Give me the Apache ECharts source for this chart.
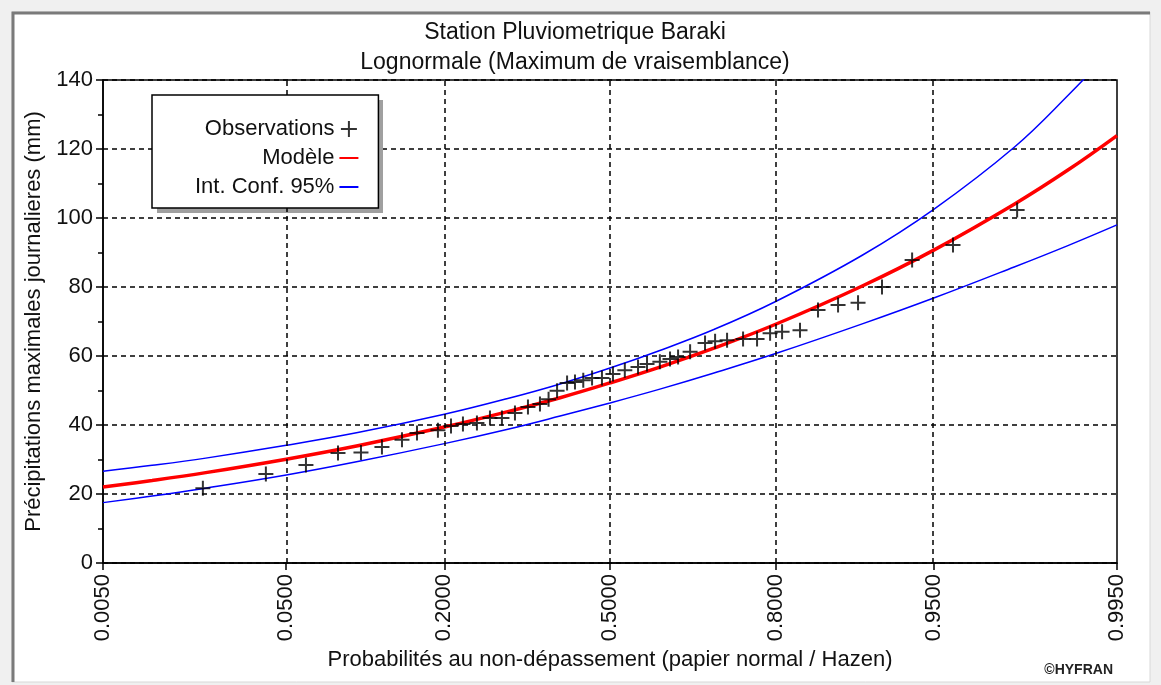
<!DOCTYPE html>
<html>
<head>
<meta charset="utf-8">
<title>Station Pluviometrique Baraki</title>
<script src="https://cdn.jsdelivr.net/npm/echarts@6/dist/echarts.min.js"></script>
<style>
    html, body { margin: 0; padding: 0; background: #f0f0f0; }
    #main { width: 1161px; height: 685px; }
</style>
</head>
<body>
<div id="main"></div>
<script>
'use strict';

// probabilites (Hazen) et valeurs observees (mm)
var obsProbs = [0.0193, 0.0402, 0.0612, 0.0835, 0.1029, 0.1233, 0.1453, 0.1634, 0.191, 0.2096,
    0.2275, 0.2495, 0.271, 0.2915, 0.3146, 0.3384, 0.361, 0.3775, 0.394, 0.4137,
    0.4294, 0.446, 0.4637, 0.4837, 0.506, 0.530, 0.5566, 0.5746, 0.600, 0.6198,
    0.6353, 0.658, 0.6854, 0.7033, 0.724, 0.7505, 0.7725, 0.792, 0.809, 0.8328,
    0.8547, 0.8767, 0.8962, 0.9165, 0.9376, 0.9593, 0.9807];
var obsValues = [21.7, 25.8, 28.4, 31.9, 32.0, 33.6, 35.7, 37.7, 38.5, 39.7,
    40.3, 40.6, 42.0, 42.0, 43.5, 45.2, 46.1, 47.5, 49.9, 52.2,
    52.5, 53.0, 53.6, 53.6, 54.8, 55.9, 56.8, 57.7, 58.3, 59.1,
    59.7, 61.2, 63.8, 64.3, 64.6, 64.9, 64.9, 66.6, 67.0, 67.5,
    73.3, 74.8, 75.4, 80.0, 87.8, 92.2, 102.3];

// courbes
var curveProbs = [0.005, 0.01, 0.02, 0.05, 0.1, 0.2, 0.3, 0.4, 0.5, 0.6, 0.7, 0.8, 0.9, 0.95, 0.98, 0.99, 0.995];
var modelValues = [22.0, 23.9, 26.2, 30.1, 34.0, 39.4, 43.8, 47.9, 52.2, 56.8, 62.2, 69.2, 80.3, 90.7, 104.0, 113.9, 123.9];
var upperValues = [26.6, 28.3, 30.4, 34.1, 37.8, 43.1, 47.6, 51.9, 56.5, 61.6, 67.6, 75.8, 89.2, 102.5, 120.5, 135.5, 150.5];
var lowerValues = [17.5, 19.4, 21.7, 25.5, 29.4, 34.6, 38.7, 42.6, 46.4, 50.4, 55.0, 60.7, 69.3, 76.8, 85.8, 92.0, 98.0];

var tickProbs = [0.005, 0.05, 0.2, 0.5, 0.8, 0.95, 0.995];

var FONT = '"Liberation Sans", Arial, sans-serif';

// quantile de la loi normale (Acklam)
function normInv(p) {
    var a = [-39.69683028665376, 220.9460984245205, -275.9285104469687, 138.3577518672690, -30.66479806614716, 2.506628277459239];
    var b = [-54.47609879822406, 161.5858368580409, -155.6989798598866, 66.80131188771972, -13.28068155288572];
    var c = [-0.007784894002430293, -0.3223964580411365, -2.400758277161838, -2.549732539343734, 4.374664141464968, 2.938163982698783];
    var d = [0.007784695709041462, 0.3224671290700398, 2.445134137142996, 3.754408661907416];
    var pl = 0.02425, q, r;
    if (p < pl) {
        q = Math.sqrt(-2 * Math.log(p));
        return (((((c[0] * q + c[1]) * q + c[2]) * q + c[3]) * q + c[4]) * q + c[5]) /
            ((((d[0] * q + d[1]) * q + d[2]) * q + d[3]) * q + 1);
    }
    if (p > 1 - pl) {
        q = Math.sqrt(-2 * Math.log(1 - p));
        return -(((((c[0] * q + c[1]) * q + c[2]) * q + c[3]) * q + c[4]) * q + c[5]) /
            ((((d[0] * q + d[1]) * q + d[2]) * q + d[3]) * q + 1);
    }
    q = p - 0.5;
    r = q * q;
    return (((((a[0] * r + a[1]) * r + a[2]) * r + a[3]) * r + a[4]) * r + a[5]) * q /
        (((((b[0] * r + b[1]) * r + b[2]) * r + b[3]) * r + b[4]) * r + 1);
}

function pairs(probs, values) {
    return probs.map(function (p, i) {
        return [normInv(p), values[i]];
    });
}

var tickZ = tickProbs.map(normInv);

function tickLabel(z) {
    var best = 0;
    tickZ.forEach(function (t, i) {
        if (Math.abs(t - z) < Math.abs(tickZ[best] - z)) best = i;
    });
    return tickProbs[best].toFixed(4);
}

var myChart = echarts.init(document.getElementById('main'));

var dashed = { color: '#000', width: 1.5, type: [5, 4] };

var option = {
    backgroundColor: '#f0f0f0',
    animation: false,
    textStyle: { fontFamily: FONT },
    graphic: [
        {
            type: 'rect', z: -10,
            shape: { x: 12, y: 12, width: 1138, height: 670 },
            style: { fill: '#fff', stroke: '#d8d8d8', lineWidth: 1 }
        },
        {
            type: 'polyline', z: -9,
            shape: { points: [[13, 682], [13, 13], [1150, 13]] },
            style: { stroke: '#7a7a7a', lineWidth: 3, fill: null }
        },
        {
            // ombre de la legende
            type: 'rect', z: 3,
            shape: { x: 157, y: 100, width: 226, height: 113 },
            style: { fill: '#a0a0a0' }
        },
        {
            type: 'text', right: 48, top: 663,
            style: { text: '\u00a9HYFRAN', font: 'bold 14px ' + FONT, fill: '#222' }
        }
    ],
    title: {
        text: 'Station Pluviometrique Baraki\nLognormale (Maximum de vraisemblance)',
        left: 570,
        textAlign: 'center',
        top: 13,
        textStyle: { fontSize: 23, fontWeight: 'normal', lineHeight: 30, color: '#111', fontFamily: FONT }
    },
    legend: {
        orient: 'vertical',
        align: 'right',
        left: 152,
        top: 95,
        z: 6,
        padding: [23, 19, 10, 43],
        itemGap: 7,
        itemWidth: 19,
        itemHeight: 16,
        backgroundColor: '#fff',
        borderColor: '#000',
        borderWidth: 1.5,
        borderRadius: 0,
        textStyle: { fontSize: 22, color: '#111', fontFamily: FONT },
        data: [
            'Observations',
            { name: 'Modèle', itemStyle: { opacity: 0 } },
            { name: 'Int. Conf. 95%', itemStyle: { opacity: 0 } }
        ]
    },
    grid: {
        left: 103,
        right: 44,
        top: 80,
        bottom: 122,
        show: true,
        borderColor: '#000',
        borderWidth: 1.5,
        containLabel: false
    },
    xAxis: {
        type: 'value',
        min: normInv(0.005),
        max: normInv(0.995),
        name: 'Probabilités au non-dépassement (papier normal / Hazen)',
        nameLocation: 'middle',
        nameGap: 86,
        nameTextStyle: { fontSize: 22, color: '#111', fontFamily: FONT },
        axisLine: { onZero: false, lineStyle: { color: '#000', width: 1.5 } },
        axisTick: { show: true, customValues: tickZ, length: 7, lineStyle: { color: '#000', width: 1.5 } },
        axisLabel: {
            customValues: tickZ,
            rotate: 90,
            margin: 11,
            fontSize: 22,
            color: '#111',
            fontFamily: FONT,
            formatter: tickLabel
        },
        splitLine: { show: false }
    },
    yAxis: {
        type: 'value',
        min: 0,
        max: 140,
        interval: 20,
        name: 'Précipitations maximales journalieres (mm)',
        nameLocation: 'middle',
        nameGap: 42,
        nameTextStyle: { fontSize: 22, color: '#111', fontFamily: FONT },
        axisLine: { show: true, onZero: false, lineStyle: { color: '#000', width: 1.5 } },
        axisTick: { show: true, length: 7, lineStyle: { color: '#000', width: 1.5 } },
        minorTick: { show: true, splitNumber: 2, length: 5, lineStyle: { color: '#000', width: 1.5 } },
        axisLabel: { margin: 10, fontSize: 22, color: '#111', fontFamily: FONT },
        splitLine: { show: true, lineStyle: dashed }
    },
    series: [
        {
            // lignes verticales de la grille
            type: 'line',
            data: [],
            z: 1,
            silent: true,
            markLine: {
                silent: true,
                symbol: 'none',
                label: { show: false },
                lineStyle: dashed,
                data: tickZ.slice(1, -1).map(function (z) { return { xAxis: z }; })
            }
        },
        {
            name: 'Int. Conf. 95%',
            type: 'line',
            data: pairs(curveProbs, upperValues),
            smooth: 0.4,
            symbol: 'none',
            z: 3,
            itemStyle: { color: '#0000ff' },
            lineStyle: { color: '#0000ff', width: 1.5 }
        },
        {
            name: 'Int. Conf. 95%',
            type: 'line',
            data: pairs(curveProbs, lowerValues),
            smooth: 0.4,
            symbol: 'none',
            z: 3,
            itemStyle: { color: '#0000ff' },
            lineStyle: { color: '#0000ff', width: 1.5 }
        },
        {
            name: 'Modèle',
            type: 'line',
            data: pairs(curveProbs, modelValues),
            smooth: 0.4,
            symbol: 'none',
            z: 4,
            itemStyle: { color: '#ff0000' },
            lineStyle: { color: '#ff0000', width: 3.5 }
        },
        {
            name: 'Observations',
            type: 'scatter',
            data: pairs(obsProbs, obsValues),
            symbol: 'path://M0,8L16,8M8,0L8,16',
            symbolSize: 15,
            z: 5,
            itemStyle: { color: 'rgba(0,0,0,0)', borderColor: '#000', borderWidth: 2 }
        }
    ]
};

myChart.setOption(option);
</script>
</body>
</html>
